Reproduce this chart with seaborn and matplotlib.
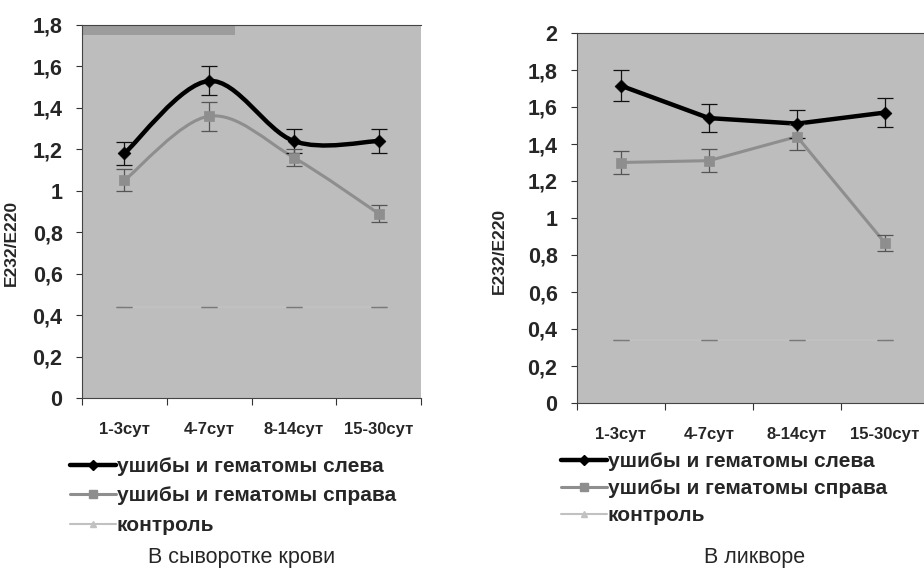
import numpy as np
import pandas as pd
import matplotlib
matplotlib.use("Agg")
import matplotlib.pyplot as plt
import seaborn as sns
from matplotlib.path import Path
from matplotlib.patches import PathPatch
from matplotlib.lines import Line2D

# ---- data -------------------------------------------------------------
periods = ["1-3сут", "4-7сут", "8-14сут", "15-30сут"]
series_names = ["ушибы и гематомы слева", "ушибы и гематомы справа", "контроль"]

serum_left = [1.18, 1.53, 1.24, 1.24]
serum_left_err = [0.055, 0.07, 0.06, 0.06]
serum_right = [1.05, 1.36, 1.16, 0.89]
serum_right_err = [0.053, 0.07, 0.04, 0.04]
serum_control = [0.44, 0.44, 0.44, 0.44]
serum_control_err = [0.0, 0.0, 0.0, 0.0]

csf_left = [1.715, 1.54, 1.51, 1.57]
csf_left_err = [0.085, 0.077, 0.075, 0.076]
csf_right = [1.30, 1.31, 1.44, 0.865]
csf_right_err = [0.062, 0.063, 0.07, 0.045]
csf_control = [0.34, 0.34, 0.34, 0.34]
csf_control_err = [0.0, 0.0, 0.0, 0.0]

serum_yticks = [0, 0.2, 0.4, 0.6, 0.8, 1.0, 1.2, 1.4, 1.6, 1.8]
serum_ylabels = ["0", "0,2", "0,4", "0,6", "0,8", "1", "1,2", "1,4", "1,6", "1,8"]
csf_yticks = [0, 0.2, 0.4, 0.6, 0.8, 1.0, 1.2, 1.4, 1.6, 1.8, 2.0]
csf_ylabels = ["0", "0,2", "0,4", "0,6", "0,8", "1", "1,2", "1,4", "1,6", "1,8", "2"]

panel_titles = ["В сыворотке крови", "В ликворе"]
y_title = "E232/E220"

# ---- style --------------------------------------------------------------
sns.set_theme(style="white")
plt.rcParams["font.family"] = ["Liberation Sans", "DejaVu Sans"]

BG = "#bdbdbd"
BLACK = "#000000"
GRAY = "#8e8e8e"
CTRL = "#c1c1c1"
styles = [
    dict(color=BLACK, lw=3.2, marker="D", ms=6.5, ecolor="#111111"),
    dict(color=GRAY, lw=2.2, marker="s", ms=7, ecolor="#555555"),
    dict(color=CTRL, lw=1.5, marker="^", ms=5, ecolor="#7a7a7a"),
]


def smooth_path(xs, ys):
    """Cubic Bezier spline (Catmull-Rom control points) through the points."""
    pts = np.column_stack([xs, ys]).astype(float)
    n = len(pts)
    verts = [pts[0]]
    codes = [Path.MOVETO]
    for i in range(n - 1):
        p0 = pts[i - 1] if i > 0 else pts[i]
        p1, p2 = pts[i], pts[i + 1]
        p3 = pts[i + 2] if i + 2 < n else pts[i + 1]
        verts += [p1 + (p2 - p0) / 6.0, p2 - (p3 - p1) / 6.0, p2]
        codes += [Path.CURVE4] * 3
    return Path(verts, codes)


def draw_panel(ax, values, errors, smooth, yticks, ylabels, ymax):
    x = np.arange(len(periods))
    ax.set_facecolor(BG)
    for k, (vals, errs, st) in enumerate(zip(values, errors, styles)):
        df = pd.DataFrame({"x": x, "y": vals})
        if smooth[k]:
            ax.add_patch(PathPatch(smooth_path(x, vals), fill=False,
                                   edgecolor=st["color"], lw=st["lw"],
                                   capstyle="round", joinstyle="round", zorder=3))
        else:
            sns.lineplot(data=df, x="x", y="y", ax=ax, color=st["color"],
                         lw=st["lw"], zorder=3, legend=False)
        ax.errorbar(x, vals, yerr=errs, fmt="none", ecolor=st["ecolor"],
                    elinewidth=0.9, capsize=6, capthick=0.9, zorder=4)
        if k < 2:
            sns.scatterplot(data=df, x="x", y="y", ax=ax, marker=st["marker"],
                            s=st["ms"] ** 2, color=st["color"],
                            edgecolor=st["color"], linewidth=0.5, zorder=5,
                            legend=False)
    ax.set_xlim(-0.5, len(periods) - 0.5)
    ax.set_ylim(0, ymax)
    ax.set_xticks(x)
    ax.set_xticklabels(periods, fontsize=12, fontweight="bold")
    ax.set_xticks(np.arange(-0.5, len(periods), 1.0), minor=True)
    ax.tick_params(axis="x", which="major", length=0, pad=17)
    ax.tick_params(axis="x", which="minor", length=5, width=0.8,
                   color="#333333", direction="out", bottom=True)
    ax.set_yticks(yticks)
    ax.set_yticklabels(ylabels, fontsize=15.5, fontweight="bold")
    ax.tick_params(axis="y", length=4, width=0.8, color="#333333",
                   direction="out", left=True, pad=10)
    ax.set_xlabel("")
    ax.set_ylabel(y_title, fontsize=12.5, fontweight="bold")
    ax.spines["right"].set_visible(False)
    for side in ["left", "bottom", "top"]:
        ax.spines[side].set_color("#444444")
        ax.spines[side].set_linewidth(0.8)


fig = plt.figure(figsize=(9.24, 5.72), dpi=100)
ax1 = fig.add_axes([82 / 924, 1 - 398 / 572, 339 / 924, 373 / 572])
ax2 = fig.add_axes([577 / 924, 1 - 403 / 572, 352 / 924, 370 / 572])

draw_panel(ax1,
           [serum_left, serum_right, serum_control],
           [serum_left_err, serum_right_err, serum_control_err],
           [True, True, False], serum_yticks, serum_ylabels, 1.8)
ax1.axhspan(1.75, 1.8, xmin=0, xmax=0.45, color="#9c9c9c", zorder=0.5, lw=0)
ax1.yaxis.set_label_coords(-0.185, 0.415)

draw_panel(ax2,
           [csf_left, csf_right, csf_control],
           [csf_left_err, csf_right_err, csf_control_err],
           [False, False, False], csf_yticks, csf_ylabels, 2.0)
ax2.yaxis.set_label_coords(-0.2, 0.41)

# legends below each panel
handles = [Line2D([], [], color=st["color"], lw=st["lw"], marker=st["marker"],
                  ms=st["ms"] * 0.8) for st in styles]
for ax, (lx, ly, sp) in [(ax1, (70, 457, 0.5)), (ax2, (561, 452, 0.38))]:
    ax.legend(handles, series_names, loc="upper left",
              bbox_to_anchor=(lx / 924, 1 - ly / 572),
              bbox_transform=fig.transFigure, frameon=False,
              handlelength=2.2, handletextpad=0.05, labelspacing=sp,
              borderpad=0, borderaxespad=0,
              prop={"family": "Liberation Sans", "weight": "bold", "size": 15})

fig.text(242 / 924, 1 - 557 / 572, panel_titles[0], ha="center", va="center",
         fontsize=15.5)
fig.text(755 / 924, 1 - 557 / 572, panel_titles[1], ha="center", va="center",
         fontsize=15.5)

fig.savefig("out.png", dpi=100, facecolor="white")
